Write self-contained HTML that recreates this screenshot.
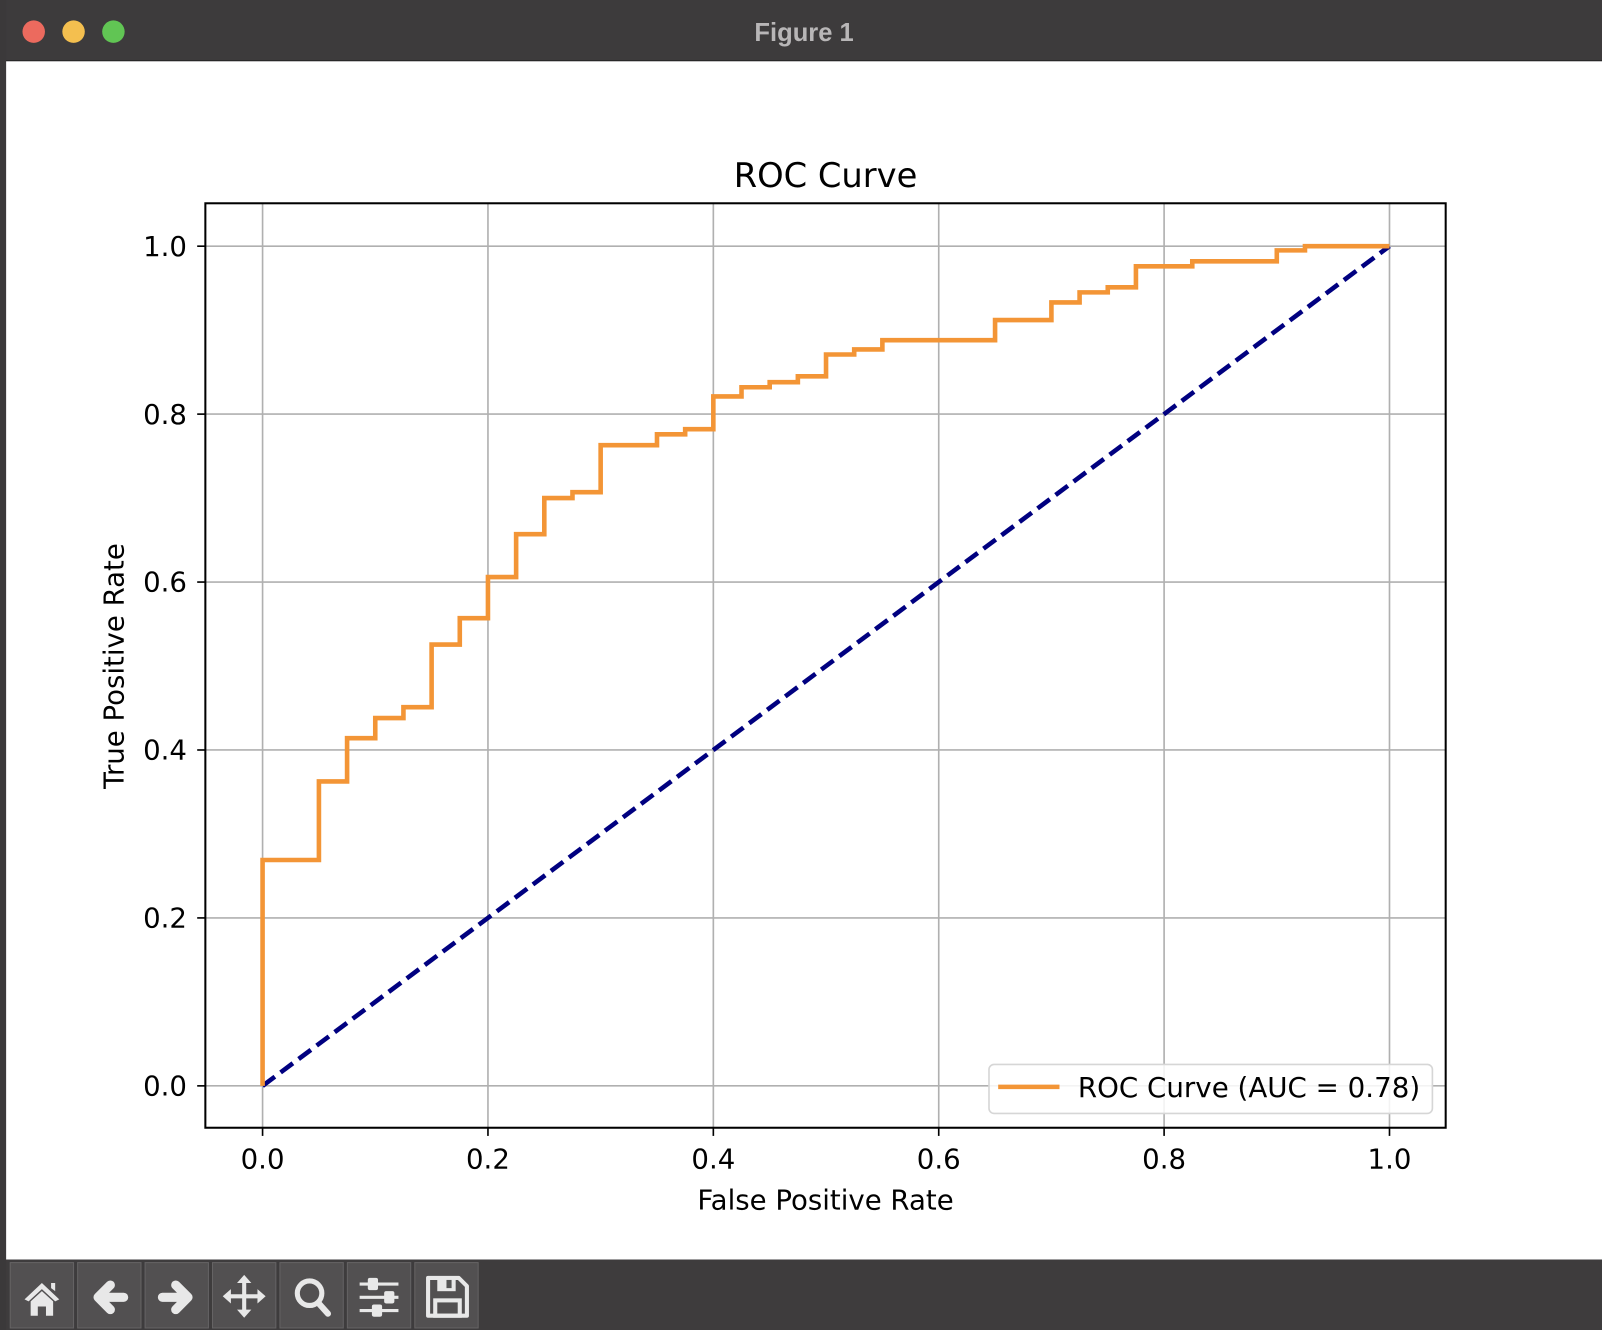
<!DOCTYPE html>
<html><head><meta charset="utf-8"><style>
html,body{margin:0;padding:0;background:#3b393a;}
svg{display:block;font-family:"DejaVu Sans","Liberation Sans",sans-serif;}
</style></head><body>
<svg id="fig" width="1602" height="1330" viewBox="0 0 1568 1302" preserveAspectRatio="none">
<rect x="0" y="0" width="1568" height="1302" fill="#3b393a"/>
<rect x="6" y="0" width="1562" height="60" fill="#3d3b3c"/>
<rect x="6" y="59" width="1562" height="1" fill="#222"/>
<circle cx="33" cy="31" r="11" fill="#ec6a5e"/>
<circle cx="72" cy="31" r="11" fill="#f4bf4f"/>
<circle cx="111" cy="31" r="11" fill="#61c554"/>
<text x="787" y="40" text-anchor="middle" font-size="25" font-weight="bold" fill="#b8b6b7" font-family="Liberation Sans, sans-serif">Figure 1</text>
<rect x="6" y="60" width="1562" height="1173" fill="#ffffff"/>
<g id="plot"></g>
<rect x="6" y="1233" width="1562" height="69" fill="#3e3c3d"/>
<g id="tb"></g>
</svg>
<script>
const fpr=[0,0,0.05,0.05,0.075,0.075,0.1,0.1,0.125,0.125,0.15,0.15,0.175,0.175,0.2,0.2,0.225,0.225,0.25,0.25,0.275,0.275,0.3,0.3,0.35,0.35,0.375,0.375,0.4,0.4,0.425,0.425,0.45,0.45,0.475,0.475,0.5,0.5,0.525,0.525,0.55,0.55,0.65,0.65,0.7,0.7,0.725,0.725,0.75,0.75,0.775,0.775,0.825,0.825,0.9,0.9,0.925,0.925,1.0];
const tpr=[0,0.269,0.269,0.3625,0.3625,0.414,0.414,0.438,0.438,0.451,0.451,0.5255,0.5255,0.557,0.557,0.606,0.606,0.657,0.657,0.70,0.70,0.707,0.707,0.763,0.763,0.776,0.776,0.782,0.782,0.821,0.821,0.832,0.832,0.838,0.838,0.845,0.845,0.871,0.871,0.877,0.877,0.888,0.888,0.912,0.912,0.933,0.933,0.945,0.945,0.951,0.951,0.976,0.976,0.982,0.982,0.995,0.995,1.0,1.0];
const xTicks=["0.0","0.2","0.4","0.6","0.8","1.0"];
const yTicks=["0.0","0.2","0.4","0.6","0.8","1.0"];
const legendLabel="ROC Curve (AUC = 0.78)";
const NS="http://www.w3.org/2000/svg";
const g=document.getElementById('plot');
const X=v=>257+v*1103, Y=v=>1063-v*822;
function mk(t,a,p){const e=document.createElementNS(NS,t);for(const k in a)e.setAttribute(k,a[k]);(p||g).appendChild(e);return e;}
xTicks.forEach(s=>{const v=parseFloat(s);
 const l=mk('line',{x1:X(v),x2:X(v),y1:199,y2:1104,stroke:'#b0b0b0','stroke-width':1.6});
 
 
 mk('line',{x1:X(v),x2:X(v),y1:1104,y2:1112,stroke:'#000','stroke-width':1.6});
 const t=mk('text',{x:X(v),y:1144,'text-anchor':'middle','font-size':27});t.textContent=s;
 
 
});
yTicks.forEach(s=>{const v=parseFloat(s);
 const l=mk('line',{x1:201,x2:1415,y1:Y(v),y2:Y(v),stroke:'#b0b0b0','stroke-width':1.6});
 
 
 mk('line',{x1:193,x2:201,y1:Y(v),y2:Y(v),stroke:'#000','stroke-width':1.6});
 const t=mk('text',{x:183,y:Y(v)+9.5,'text-anchor':'end','font-size':27});t.textContent=s;
 
 
});
const d=mk('line',{x1:X(0),y1:Y(0),x2:X(1),y2:Y(1),stroke:'#000080','stroke-width':4.5,'stroke-dasharray':'15,7'});


const pts=fpr.map((f,i)=>X(f)+','+Y(tpr[i])).join(' ');
const c=mk('polyline',{points:pts,fill:'none',stroke:'#f39536','stroke-width':4.5,'stroke-linejoin':'miter'});


const f=mk('rect',{x:201,y:199,width:1214,height:905,fill:'none',stroke:'#000','stroke-width':2});


const lg=mk('g',{});


mk('rect',{x:968,y:1042,width:434,height:48,rx:5,fill:'#fff','fill-opacity':0.85,stroke:'#d6d6d6','stroke-width':1.6},lg);
mk('line',{x1:977,x2:1037,y1:1064,y2:1064,stroke:'#f39536','stroke-width':4.5},lg);
const lt=mk('text',{x:1055,y:1074,'font-size':27,textLength:335,lengthAdjust:'spacingAndGlyphs'},lg);lt.textContent=legendLabel;


const tt=mk('text',{x:808,y:183,'text-anchor':'middle','font-size':33});tt.textContent='ROC Curve';


const xt=mk('text',{x:808,y:1184,'text-anchor':'middle','font-size':27});xt.textContent='False Positive Rate';


const yt=mk('text',{x:0,y:0,'text-anchor':'middle','font-size':27,transform:'translate(121,652) rotate(-90)'});yt.textContent='True Positive Rate';


const tb=document.getElementById('tb');
const names=['home-button','back-button','forward-button','pan-button','zoom-button','configure-button','save-button'];
const icons=[
 '<path d="M14 36 L31 20 L48 36 L44 38 L31 26 L18 38Z M20 38 L31 28 L42 38 L42 52 L35 52 L35 43 L27 43 L27 52 L20 52Z M40 20 L44 20 L44 28 L40 25Z" fill="#e8e8e8"/>',
 '<path d="M45 34 L22 34 M32 22 L20 34 L32 46" stroke="#e8e8e8" stroke-width="9" stroke-linecap="round" stroke-linejoin="round" fill="none"/>',
 '<path d="M17 34 L40 34 M30 22 L42 34 L30 46" stroke="#e8e8e8" stroke-width="9" stroke-linecap="round" stroke-linejoin="round" fill="none"/>',
 '<path d="M31 12 L38 20 L33 20 L33 31 L44 31 L44 26 L52 33 L44 40 L44 35 L33 35 L33 46 L38 46 L31 54 L24 46 L29 46 L29 35 L18 35 L18 40 L10 33 L18 26 L18 31 L29 31 L29 20 L24 20Z" fill="#e8e8e8"/>',
 '<circle cx="29" cy="30" r="12" stroke="#e8e8e8" stroke-width="5" fill="none"/><line x1="38" y1="40" x2="47" y2="50" stroke="#e8e8e8" stroke-width="6" stroke-linecap="round"/>',
 '<g stroke="#e8e8e8" stroke-width="3"><line x1="12" y1="21" x2="50" y2="21"/><line x1="12" y1="34" x2="50" y2="34"/><line x1="12" y1="47" x2="50" y2="47"/></g><g fill="#e8e8e8"><rect x="20" y="15" width="10" height="12" rx="2"/><rect x="36" y="28" width="10" height="12" rx="2"/><rect x="24" y="41" width="10" height="12" rx="2"/></g>',
 '<path d="M13 15 L43 15 L51 23 L51 52 L13 52Z" stroke="#e8e8e8" stroke-width="4" fill="none" stroke-linejoin="round"/><rect x="22" y="15" width="18" height="13" fill="#e8e8e8"/><rect x="31" y="17" width="5" height="8" fill="#555"/><rect x="20" y="37" width="24" height="15" fill="none" stroke="#e8e8e8" stroke-width="4"/>'
];
names.forEach((n,i)=>{
 const b=document.createElementNS(NS,'g');
 b.setAttribute('transform','translate('+(10+66*i)+',1236)');
 
 
 b.innerHTML='<rect x="0" y="0" width="62" height="64" fill="#525051" stroke="#656364" stroke-width="1"/>'+icons[i];
 tb.appendChild(b);
});
</script>
</body></html>
